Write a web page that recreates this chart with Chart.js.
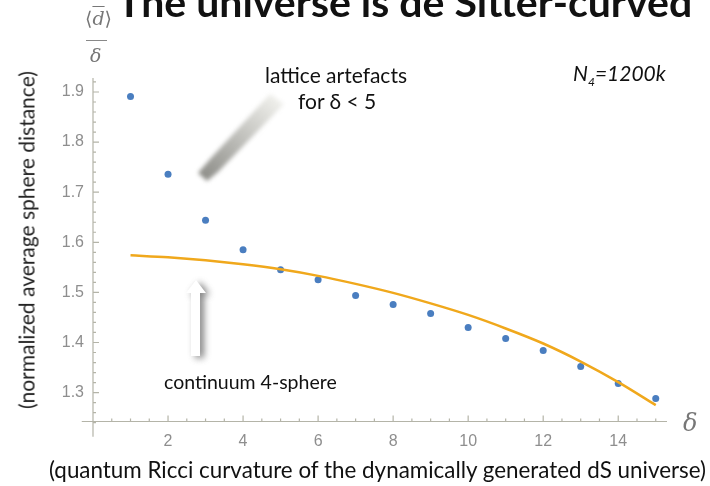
<!DOCTYPE html>
<html>
<head>
<meta charset="utf-8">
<script src="https://cdn.jsdelivr.net/npm/chart.js@4/dist/chart.umd.min.js"></script>
<style>
  html, body { margin: 0; padding: 0; background: #fff; }
  #wrap { position: relative; width: 710px; height: 486px; overflow: hidden; font-family: Lato, "Open Sans", sans-serif; }
  #chart { position: absolute; left: 0; top: 0; }
  .t { position: absolute; white-space: nowrap; line-height: 1; }
</style>
</head>
<body>
<div id="wrap">
  <canvas id="chart" width="710" height="486"></canvas>
  <div class="t" id="title" style="left:117px; top:-19px; font-size:41px; font-weight:bold; color:#111;">The universe is de Sitter-curved</div>
  <div class="t" style="left:85px; top:9px; font-size:19px; color:#777; font-family:'DejaVu Serif', serif;">&#10216;<span style="text-decoration:overline; font-style:italic;">d</span>&#10217;</div>
  <div style="position:absolute; left:86px; top:40px; width:21px; height:1px; background:#888;"></div>
  <div class="t" style="left:90px; top:46px; font-size:19px; color:#777; font-style:italic; font-family:'DejaVu Serif', serif;">δ</div>
  <div class="t" style="top:240px; left:26px; font-size:21px; color:#222; transform:translate(-50%,-50%) rotate(-90deg); transform-origin:50% 50%;">(normalized average sphere distance)</div>
  <div class="t" style="left:49px; top:459px; font-size:22.4px; color:#111;">(quantum Ricci curvature of the dynamically generated dS universe)</div>
  <div class="t" style="left:683px; top:411px; font-size:24px; color:#777; font-style:italic; font-family:'DejaVu Serif', serif;">δ</div>
  <div class="t" style="left:265px; top:64px; font-size:21px; color:#111;">lattice artefacts</div>
  <div class="t" style="left:298px; top:90px; font-size:21px; color:#111;">for δ &lt; 5</div>
  <div class="t" style="left:164px; top:372px; font-size:19.5px; color:#111;">continuum 4-sphere</div>
  <div class="t" style="left:573px; top:62px; font-size:21px; color:#111; font-style:italic;">N<sub style="font-size:12px;">4</sub>=1200k</div>
</div>
<script>
// measured points, normalized average sphere distance vs delta
const deltas = [1, 2, 3, 4, 5, 6, 7, 8, 9, 10, 11, 12, 13, 14, 15];
const sphereDist = [1.891, 1.736, 1.644, 1.585, 1.545, 1.525, 1.494, 1.476, 1.458, 1.430, 1.408, 1.384, 1.352, 1.318, 1.288];

// continuum 4-sphere curve
const curveDelta = [1, 2, 3, 4, 5, 6, 7, 8, 9, 10, 11, 12, 13, 14, 15];
const curveValues = [1.574, 1.570, 1.564, 1.556, 1.546, 1.533, 1.517, 1.499, 1.478, 1.455, 1.428, 1.398, 1.362, 1.321, 1.275];

const xTicks = [2, 4, 6, 8, 10, 12, 14];
const yTicks = [1.3, 1.4, 1.5, 1.6, 1.7, 1.8, 1.9];

const AXIS = '#b4b4a8';

const mathAxes = {
  id: 'mathAxes',
  beforeDatasetsDraw(chart) {
    const { ctx, scales: { x, y } } = chart;
    const x0 = x.getPixelForValue(0);
    const yBase = y.getPixelForValue(1.2423);
    ctx.save();
    ctx.strokeStyle = AXIS;
    ctx.lineWidth = 1.2;
    ctx.beginPath();
    ctx.moveTo(x.getPixelForValue(-0.3), yBase);
    ctx.lineTo(x.getPixelForValue(15.3), yBase);
    ctx.moveTo(x0, y.getPixelForValue(1.928));
    ctx.lineTo(x0, y.getPixelForValue(1.212));
    // y ticks, minor every 0.02
    for (let v = 1.24; v <= 1.921; v += 0.02) {
      const py = y.getPixelForValue(v);
      const major = yTicks.some(t => Math.abs(t - v) < 1e-6);
      ctx.moveTo(x0, py);
      ctx.lineTo(x0 + (major ? 6 : 3), py);
    }
    // x ticks, minor every 0.5
    for (let v = 0.5; v <= 15.01; v += 0.5) {
      const px = x.getPixelForValue(v);
      const major = xTicks.includes(v);
      ctx.moveTo(px, yBase);
      ctx.lineTo(px, yBase - (major ? 6 : 3));
    }
    ctx.stroke();

    ctx.fillStyle = '#8e8e8e';
    ctx.font = '16px "Liberation Sans", Arial, sans-serif';
    ctx.textAlign = 'right';
    ctx.textBaseline = 'middle';
    yTicks.forEach(t => ctx.fillText(t.toFixed(1), x0 - 9, y.getPixelForValue(t)));
    ctx.textAlign = 'center';
    xTicks.forEach(t => ctx.fillText(String(t), x.getPixelForValue(t), yBase + 20));

    // shaded arrow towards the lattice artefacts
    ctx.filter = 'blur(2px)';
    const g = ctx.createLinearGradient(280, 96, 205, 178);
    g.addColorStop(0, '#f4f4f0');
    g.addColorStop(1, '#8f8f8a');
    ctx.fillStyle = g;
    ctx.beginPath();
    ctx.moveTo(270, 94);
    ctx.lineTo(284, 104);
    ctx.lineTo(218, 172);
    ctx.lineTo(207, 181);
    ctx.lineTo(198, 173);
    ctx.lineTo(211, 158);
    ctx.closePath();
    ctx.fill();

    // white arrow with shadow towards the continuum curve
    ctx.filter = 'none';
    ctx.shadowColor = 'rgba(90,90,90,0.75)';
    ctx.shadowBlur = 7;
    ctx.shadowOffsetX = 4;
    ctx.shadowOffsetY = 2;
    ctx.fillStyle = '#ffffff';
    ctx.beginPath();
    ctx.moveTo(196, 280);
    ctx.lineTo(206, 293);
    ctx.lineTo(200, 293);
    ctx.lineTo(200, 356);
    ctx.lineTo(191, 356);
    ctx.lineTo(191, 293);
    ctx.lineTo(186, 293);
    ctx.closePath();
    ctx.fill();
    ctx.restore();
  }
};

new Chart(document.getElementById('chart'), {
  type: 'scatter',
  data: {
    datasets: [
      {
        type: 'line',
        label: 'continuum 4-sphere',
        data: curveDelta.map((d, i) => ({ x: d, y: curveValues[i] })),
        borderColor: '#f0a81c',
        borderWidth: 2.5,
        pointRadius: 0,
        tension: 0.4,
        cubicInterpolationMode: 'monotone',
        fill: false
      },
      {
        label: 'data',
        data: deltas.map((d, i) => ({ x: d, y: sphereDist[i] })),
        backgroundColor: '#4a7ec0',
        borderWidth: 0,
        pointRadius: 3.5
      }
    ]
  },
  options: {
    responsive: false,
    animation: false,
    layout: { padding: { left: 93, right: 43, top: 78, bottom: 64.5 } },
    plugins: { legend: { display: false }, tooltip: { enabled: false } },
    scales: {
      x: { type: 'linear', min: 0, max: 15.3, display: false },
      y: { type: 'linear', min: 1.2423, max: 1.9279, display: false }
    }
  },
  plugins: [mathAxes]
});
</script>
</body>
</html>
